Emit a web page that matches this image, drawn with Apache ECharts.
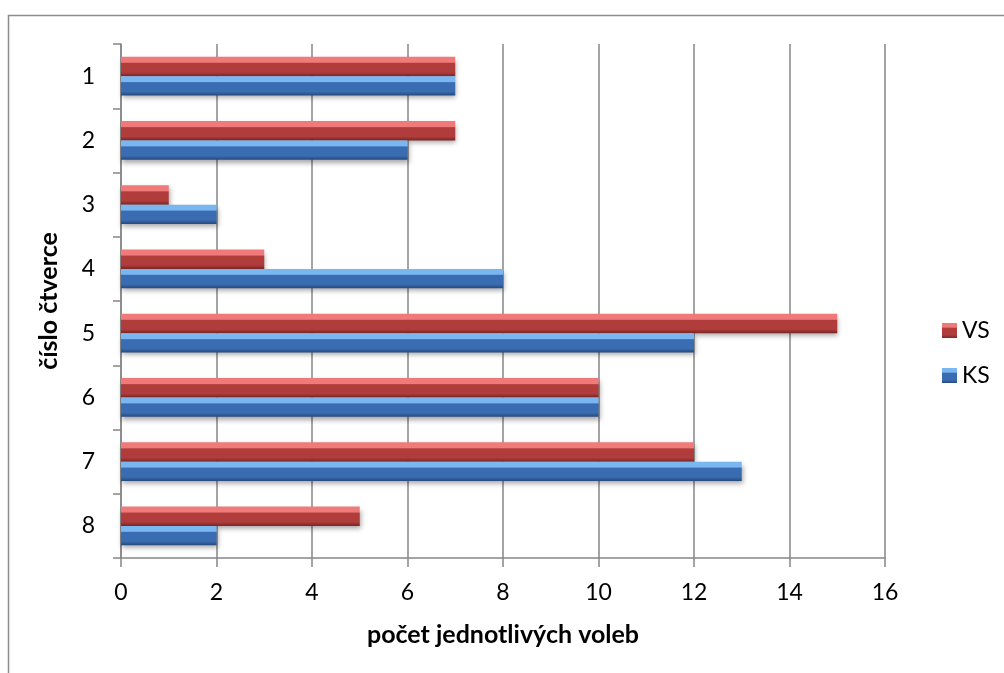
<!DOCTYPE html>
<html><head><meta charset="utf-8">
<script src="https://cdn.jsdelivr.net/npm/echarts@6/dist/echarts.min.js"></script>
<style>html,body{margin:0;padding:0;background:#fff}#c{width:1004px;height:673px}</style>
</head><body><div id="c"></div>
<script>
var categories = ['1','2','3','4','5','6','7','8'];
var vsValues = [7, 7, 1, 3, 15, 10, 12, 5];
var ksValues = [7, 6, 2, 8, 12, 10, 13, 2];
var seriesNames = ['VS', 'KS'];

function grad(light, main, dark) {
  return new echarts.graphic.LinearGradient(0, 0, 0, 1, [
    {offset: 0, color: light},
    {offset: 0.28, color: light},
    {offset: 0.34, color: main},
    {offset: 0.8, color: main},
    {offset: 1, color: dark}
  ]);
}
var chart = echarts.init(document.getElementById('c'));
var font = 'Lato, "Open Sans", sans-serif';
chart.setOption({
  animation: false,
  textStyle: {fontFamily: font},
  graphic: [{type: 'rect', shape: {x: 8.5, y: 15.5, width: 1100, height: 800}, style: {fill: 'none', stroke: '#8c8c8c', lineWidth: 1.5}, z: -1}],
  grid: {left: 121, right: 119, top: 44, bottom: 115},
  legend: {
    orient: 'vertical', left: 937, top: 314, itemGap: 22, itemWidth: 15, itemHeight: 15,
    icon: 'rect',
    textStyle: {fontSize: 23, color: '#000', fontFamily: font},
    data: seriesNames
  },
  xAxis: {
    type: 'value', min: 0, max: 16, interval: 2,
    name: 'počet jednotlivých voleb', nameLocation: 'middle', nameGap: 64,
    nameTextStyle: {fontSize: 25, fontWeight: 'bold', color: '#000', fontFamily: font},
    axisLine: {show: true, lineStyle: {color: '#868686', width: 1.5}},
    axisTick: {show: true, length: 9, lineStyle: {color: '#868686', width: 1.5}},
    axisLabel: {fontSize: 23, color: '#000', margin: 23, fontFamily: font},
    splitLine: {show: true, lineStyle: {color: '#868686', width: 1.5}}
  },
  yAxis: {
    type: 'category', data: categories, inverse: true,
    name: 'číslo čtverce', nameLocation: 'middle', nameGap: 60, nameRotate: 90,
    nameTextStyle: {fontSize: 25, fontWeight: 'bold', color: '#000', fontFamily: font},
    axisLine: {show: true, lineStyle: {color: '#868686', width: 1.5}},
    axisTick: {show: true, length: 8, lineStyle: {color: '#868686', width: 1.5}},
    axisLabel: {fontSize: 23, color: '#000', margin: 26, fontFamily: font},
    splitLine: {show: false}
  },
  series: [
    {
      name: 'VS', type: 'bar', data: vsValues, barGap: '0%', barCategoryGap: '40%',
      itemStyle: {color: grad('#f07a7a', '#b03c3c', '#7a2626'), shadowColor: 'rgba(0,0,0,0.35)', shadowBlur: 5, shadowOffsetY: 3, shadowOffsetX: 1}
    },
    {
      name: 'KS', type: 'bar', data: ksValues, barGap: '0%', barCategoryGap: '40%',
      itemStyle: {color: grad('#7ab6f0', '#3a6cb2', '#27497d'), shadowColor: 'rgba(0,0,0,0.35)', shadowBlur: 5, shadowOffsetY: 3, shadowOffsetX: 1}
    }
  ]
});
</script></body></html>
